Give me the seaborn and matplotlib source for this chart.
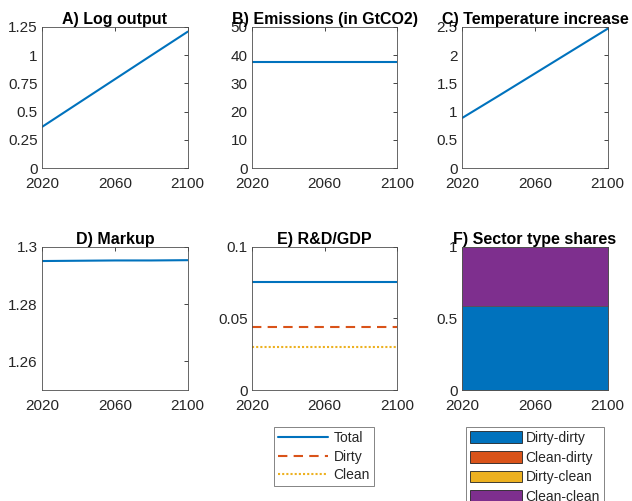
import numpy as np
import pandas as pd
import matplotlib
matplotlib.use("Agg")
import matplotlib.pyplot as plt
import seaborn as sns
from matplotlib.patches import Patch
from matplotlib.lines import Line2D
from matplotlib.ticker import FormatStrFormatter

# ---- data ----
years = [2020, 2040, 2060, 2080, 2100]
log_output = [0.367, 0.577, 0.787, 0.997, 1.206]
emissions = [37.4, 37.4, 37.4, 37.4, 37.4]
temperature = [0.89, 1.28, 1.675, 2.07, 2.465]
markup = [1.2950, 1.2951, 1.2952, 1.2952, 1.2953]
rd_total = [0.0752, 0.0752, 0.0752, 0.0752, 0.0752]
rd_dirty = [0.0442, 0.0442, 0.0442, 0.0442, 0.0442]
rd_clean = [0.0302, 0.0302, 0.0302, 0.0302, 0.0302]
share_dd = [0.586, 0.586, 0.586, 0.586, 0.586]
share_cd = [0.0, 0.0, 0.0, 0.0, 0.0]
share_dc = [0.0, 0.0, 0.0, 0.0, 0.0]
share_cc = [0.414, 0.414, 0.414, 0.414, 0.414]
xticks = [2020, 2060, 2100]

C_BLUE = "#0072BD"
C_ORANGE = "#D95319"
C_YELLOW = "#EDB120"
C_PURPLE = "#7E2F8E"
AX_COL = "#262626"
GRAY = "#4d4d4d"

sns.set_style("white")
plt.rcParams["font.family"] = ["Liberation Sans", "DejaVu Sans"]
plt.rcParams["axes.linewidth"] = 0.6

fig = plt.figure(figsize=(6.32, 5.01), dpi=100)
W, H = 632, 501


def add_ax(x0, x1, ytop, ybot):
    return fig.add_axes([x0 / W, 1 - ybot / H, (x1 - x0) / W, (ybot - ytop) / H])


def style(ax, title, ylim, yticks, fmt="%g"):
    ax.set_xlim(2020, 2100)
    ax.set_ylim(*ylim)
    ax.set_xticks(xticks)
    ax.set_yticks(yticks)
    ax.yaxis.set_major_formatter(FormatStrFormatter(fmt))
    ax.tick_params(direction="in", top=True, right=True, length=3, width=0.6,
                   labelsize=11, colors=AX_COL, labelcolor=AX_COL)
    ax.tick_params(axis="x", pad=6.5)
    ax.tick_params(axis="y", pad=3.3)
    for s in ax.spines.values():
        s.set_color(GRAY)
        s.set_linewidth(0.6)
        s.set_visible(True)
    ax.set_xlabel("")
    ax.set_ylabel("")
    ax.set_title(title, fontsize=11.5, fontweight="bold", pad=2, color="black")


top = (26.7, 168.3)
bot = (246.7, 390.0)
colx = [(42.3, 187.7), (252.3, 397.0), (462.3, 607.7)]

df = pd.DataFrame({"year": years, "log_output": log_output, "emissions": emissions,
                   "temperature": temperature, "markup": markup,
                   "Total": rd_total, "Dirty": rd_dirty, "Clean": rd_clean})

# A
ax = add_ax(*colx[0], *top)
sns.lineplot(data=df, x="year", y="log_output", color=C_BLUE, lw=1.5, ax=ax)
style(ax, "A) Log output", (0, 1.25), [0, 0.25, 0.5, 0.75, 1, 1.25])

# B
ax = add_ax(*colx[1], *top)
sns.lineplot(data=df, x="year", y="emissions", color=C_BLUE, lw=1.5, ax=ax)
style(ax, "B) Emissions (in GtCO2)", (0, 50), [0, 10, 20, 30, 40, 50])

# C
ax = add_ax(*colx[2], *top)
sns.lineplot(data=df, x="year", y="temperature", color=C_BLUE, lw=1.5, ax=ax)
style(ax, "C) Temperature increase", (0, 2.5), [0, 0.5, 1, 1.5, 2, 2.5])

# D
ax = add_ax(*colx[0], *bot)
sns.lineplot(data=df, x="year", y="markup", color=C_BLUE, lw=1.5, ax=ax)
style(ax, "D) Markup", (1.25, 1.3), [1.26, 1.28, 1.3])

# E
ax = add_ax(*colx[1], *bot)
sns.lineplot(data=df, x="year", y="Total", color=C_BLUE, lw=1.5, ax=ax)
sns.lineplot(data=df, x="year", y="Dirty", color=C_ORANGE, lw=1.5, ax=ax,
             linestyle=(0, (4.5, 3)))
sns.lineplot(data=df, x="year", y="Clean", color=C_YELLOW, lw=1.5, ax=ax,
             linestyle=(0, (1, 1)))
style(ax, "E) R&D/GDP", (0, 0.1), [0, 0.05, 0.1])

# F
ax = add_ax(*colx[2], *bot)
ax.stackplot(years, share_dd, share_cd, share_dc, share_cc,
             colors=[C_BLUE, C_ORANGE, C_YELLOW, C_PURPLE],
             edgecolor="#555555", linewidth=0.5)
style(ax, "F) Sector type shares", (0, 1), [0, 0.5, 1])

# Legends
h1 = [Line2D([], [], color=C_BLUE, lw=1.5),
      Line2D([], [], color=C_ORANGE, lw=1.5, linestyle=(0, (4.5, 3))),
      Line2D([], [], color=C_YELLOW, lw=1.5, linestyle=(0, (1, 1)))]
leg1 = fig.legend(h1, ["Total", "Dirty", "Clean"], loc="upper left",
                  bbox_to_anchor=(274 / W, 1 - 427 / H), fontsize=10,
                  frameon=True, fancybox=False, edgecolor=GRAY,
                  handlelength=3.6, handletextpad=0.4, labelspacing=0.32,
                  borderpad=0.3, borderaxespad=0)
leg1.get_frame().set_linewidth(0.6)

h2 = [Patch(facecolor=c, edgecolor="#222222", linewidth=0.6)
      for c in [C_BLUE, C_ORANGE, C_YELLOW, C_PURPLE]]
leg2 = fig.legend(h2, ["Dirty-dirty", "Clean-dirty", "Dirty-clean", "Clean-clean"],
                  loc="upper left", bbox_to_anchor=(466 / W, 1 - 427 / H),
                  fontsize=10, frameon=True, fancybox=False, edgecolor=GRAY,
                  handlelength=3.75, handleheight=0.95, handletextpad=0.25,
                  labelspacing=0.4, borderpad=0.3, borderaxespad=0)
leg2.get_frame().set_linewidth(0.6)

fig.savefig("out.png", dpi=100, facecolor="white")
